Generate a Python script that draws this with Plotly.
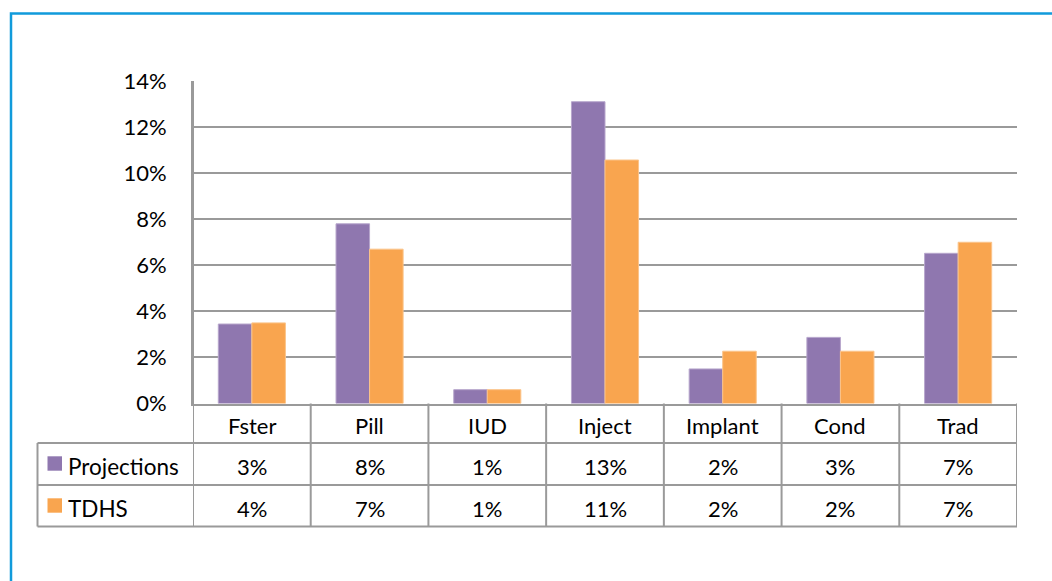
import plotly.graph_objects as go

# ---------------- data ----------------
categories = ["Fster", "Pill", "IUD", "Inject", "Implant", "Cond", "Trad"]
series_names = ["Projections", "TDHS"]
projections = [0.0345, 0.078, 0.006, 0.131, 0.015, 0.0287, 0.0652]
tdhs = [0.035, 0.067, 0.006, 0.1057, 0.0227, 0.0227, 0.070]
projections_labels = ["3%", "8%", "1%", "13%", "2%", "3%", "7%"]
tdhs_labels = ["4%", "7%", "1%", "11%", "2%", "2%", "7%"]
y_tick_values = [0, 0.02, 0.04, 0.06, 0.08, 0.10, 0.12, 0.14]
y_tick_labels = ["0%", "2%", "4%", "6%", "8%", "10%", "12%", "14%"]

# ---------------- layout helpers ----------------
W, H = 1052, 581
def px(x):
    return x / W
def py(y):
    return 1 - y / H

PLOT_L, PLOT_R, PLOT_T, PLOT_B = 193, 1017, 81, 403.5
TABLE_L = 37.5
ROWS = [403.5, 443, 485, 526.5]
FONT = "Lato"
GRID = "#9a9a9a"
COLORS = ["#8F77AF", "#F9A54F"]
EDGE = ["#B7A6CC", "#FBC48A"]

fig = go.Figure()
for name, vals, c, e in zip(series_names, [projections, tdhs], COLORS, EDGE):
    fig.add_bar(x=categories, y=vals, name=name,
                marker=dict(color=c, line=dict(color=e, width=1)))

shapes = []
annotations = []
# blue frame
shapes.append(dict(type="rect", xref="paper", yref="paper",
                   x0=px(11), x1=px(1070), y0=py(600), y1=py(13.5),
                   line=dict(color="#119BDB", width=2.5), layer="below"))
# table horizontal lines
for yy in ROWS[1:]:
    shapes.append(dict(type="line", xref="paper", yref="paper",
                       x0=px(TABLE_L), x1=px(PLOT_R), y0=py(yy), y1=py(yy),
                       line=dict(color=GRID, width=2)))
# table left edge
shapes.append(dict(type="line", xref="paper", yref="paper",
                   x0=px(TABLE_L), x1=px(TABLE_L), y0=py(ROWS[1]), y1=py(ROWS[3]),
                   line=dict(color=GRID, width=2)))
# category dividers
for i in range(len(categories) + 1):
    top = PLOT_T if i == 0 else ROWS[0]
    shapes.append(dict(type="line", xref="x", yref="paper",
                       x0=i - 0.5, x1=i - 0.5, y0=py(top), y1=py(ROWS[3]),
                       line=dict(color=GRID, width=2)))

row_centers = [426, 466, 508]
for i, cat in enumerate(categories):
    annotations.append(dict(x=i, y=py(row_centers[0]), xref="x", yref="paper",
                            text=cat, showarrow=False, yanchor="middle",
                            font=dict(family=FONT, size=22, color="#000")))
    for r, labs in enumerate([projections_labels, tdhs_labels]):
        annotations.append(dict(x=i, y=py(row_centers[r + 1]), xref="x", yref="paper",
                                text=labs[i], showarrow=False, yanchor="middle",
                                font=dict(family=FONT, size=22, color="#000")))

# legend keys inside table
for r, (name, c) in enumerate(zip(series_names, COLORS)):
    cy = row_centers[r + 1] - 2.5
    shapes.append(dict(type="rect", xref="paper", yref="paper",
                       x0=px(47.5), x1=px(62), y0=py(cy + 7.2), y1=py(cy - 7.2),
                       fillcolor=c, line=dict(width=0)))
    annotations.append(dict(x=px(66), y=py(row_centers[r + 1]), xref="paper", yref="paper",
                            text=name, showarrow=False, xanchor="left", yanchor="middle",
                            font=dict(family=FONT, size=22.5, color="#000")))

fig.update_layout(
    width=W, height=H,
    margin=dict(l=0, r=0, t=0, b=0, autoexpand=False),
    paper_bgcolor="white", plot_bgcolor="white",
    showlegend=False,
    barmode="group", bargap=0.43, bargroupgap=0,
    font=dict(family=FONT, size=22, color="#000"),
    shapes=shapes, annotations=annotations,
    xaxis=dict(domain=[px(PLOT_L), px(PLOT_R)], range=[-0.5, 6.5],
               showticklabels=False, showgrid=False, zeroline=False, automargin=False,
               showline=True, linecolor=GRID, linewidth=2, ticks=""),
    yaxis=dict(domain=[py(PLOT_B), py(PLOT_T)], range=[0, 0.14],
               tickvals=y_tick_values, ticktext=y_tick_labels, automargin=False,
               showgrid=True, gridcolor=GRID, gridwidth=2,
               zeroline=False, showline=True, linecolor=GRID, linewidth=2,
               ticks="", ticklabelstandoff=20,
               tickfont=dict(family=FONT, size=22, color="#000")),
)

fig.write_html("out.html", config={"displayModeBar": False},
               post_script="document.body.style.margin='0';")
